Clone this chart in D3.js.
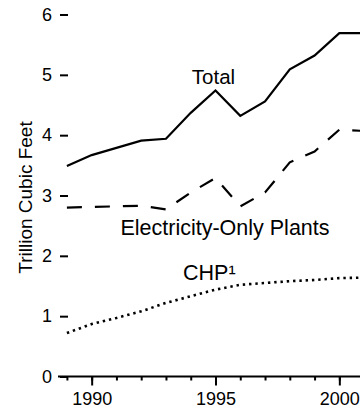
<!DOCTYPE html>
<html><head><meta charset="utf-8">
<script src="https://cdn.jsdelivr.net/npm/d3@7"></script>
<style>
html,body{margin:0;padding:0;background:#fff;}
svg{display:block;font-family:"Liberation Sans",Arial,Helvetica,sans-serif;}
</style></head>
<body><svg id="c" width="360" height="411"></svg>
<script>
const years = [1989,1990,1991,1992,1993,1994,1995,1996,1997,1998,1999,2000,2001];
const totalValues = [3.49,3.67,3.79,3.91,3.94,4.37,4.74,4.32,4.56,5.09,5.32,5.69,5.69];
const electricityOnlyValues = [2.80,2.81,2.82,2.83,2.77,3.05,3.29,2.82,3.05,3.55,3.73,4.09,4.07];
const chpValues = [0.72,0.87,0.97,1.08,1.22,1.33,1.44,1.52,1.55,1.58,1.60,1.63,1.64];
const yTicks = [0,1,2,3,4,5,6];
const xMajorTicks = [1990,1995,2000];
const xMinorTicks = [1989,1990,1991,1992,1993,1994,1995,1996,1997,1998,1999,2000,2001];
const seriesLabels = ["Total","Electricity-Only Plants","CHP\u00B9"];
const yTitle = "Trillion Cubic Feet";

const svg = d3.select("#c");
const x = d3.scaleLinear().domain([1989,2001]).range([66.9,364.1]);
const y = d3.scaleLinear().domain([0,6]).range([376.5,14.5]);

// y axis (ticks only)
const yAxis = svg.append("g").attr("transform","translate(68,0)")
  .call(d3.axisLeft(y).tickValues(yTicks).tickSize(8).tickPadding(8).tickFormat(d3.format("d")));
yAxis.select(".domain").remove();
yAxis.selectAll(".tick line").attr("stroke","#000").attr("stroke-width",2);
yAxis.selectAll(".tick text").attr("font-size",18).attr("fill","#000").attr("font-family","Liberation Sans, Arial, sans-serif");

// x axis
const xg = svg.append("g").attr("transform","translate(0,"+y(0)+")");
xg.append("line").attr("x1",58).attr("x2",360).attr("y1",0).attr("y2",0).attr("stroke","#000").attr("stroke-width",2.2);
const xMinor = xg.append("g").call(d3.axisBottom(x).tickValues(xMinorTicks).tickSize(4).tickFormat(""));
xMinor.select(".domain").remove();
xMinor.selectAll(".tick line").attr("stroke","#000").attr("stroke-width",2);
const xMajor = xg.append("g").call(d3.axisBottom(x).tickValues(xMajorTicks).tickSize(9).tickPadding(7).tickFormat(d3.format("d")));
xMajor.select(".domain").remove();
xMajor.selectAll(".tick line").attr("stroke","#000").attr("stroke-width",2);
xMajor.selectAll(".tick text").attr("font-size",18).attr("fill","#000").attr("font-family","Liberation Sans, Arial, sans-serif");

// y title
svg.append("text").attr("transform","translate(32,197.5) rotate(-90)")
  .attr("text-anchor","middle").attr("font-size",19).text(yTitle);

const line = vals => d3.line().x((d,i)=>x(years[i])).y(d=>y(d))(vals);
svg.append("path").attr("d",line(totalValues)).attr("fill","none").attr("stroke","#000").attr("stroke-width",2.2).attr("stroke-linejoin","miter");
svg.append("path").attr("d",line(electricityOnlyValues)).attr("fill","none").attr("stroke","#000").attr("stroke-width",2.2).attr("stroke-dasharray","15,13");
svg.append("path").attr("d",line(chpValues)).attr("fill","none").attr("stroke","#000").attr("stroke-width",2.6).attr("stroke-dasharray","2.4,3.9");

// series labels
svg.append("text").attr("x",213.5).attr("y",84).attr("text-anchor","middle").attr("font-size",20.5).text(seriesLabels[0]);
svg.append("text").attr("x",225).attr("y",234.5).attr("text-anchor","middle").attr("font-size",21.5).text(seriesLabels[1]);
svg.append("text").attr("x",183).attr("y",280).attr("text-anchor","start").attr("font-size",21.5).text(seriesLabels[2]);
</script></body></html>
